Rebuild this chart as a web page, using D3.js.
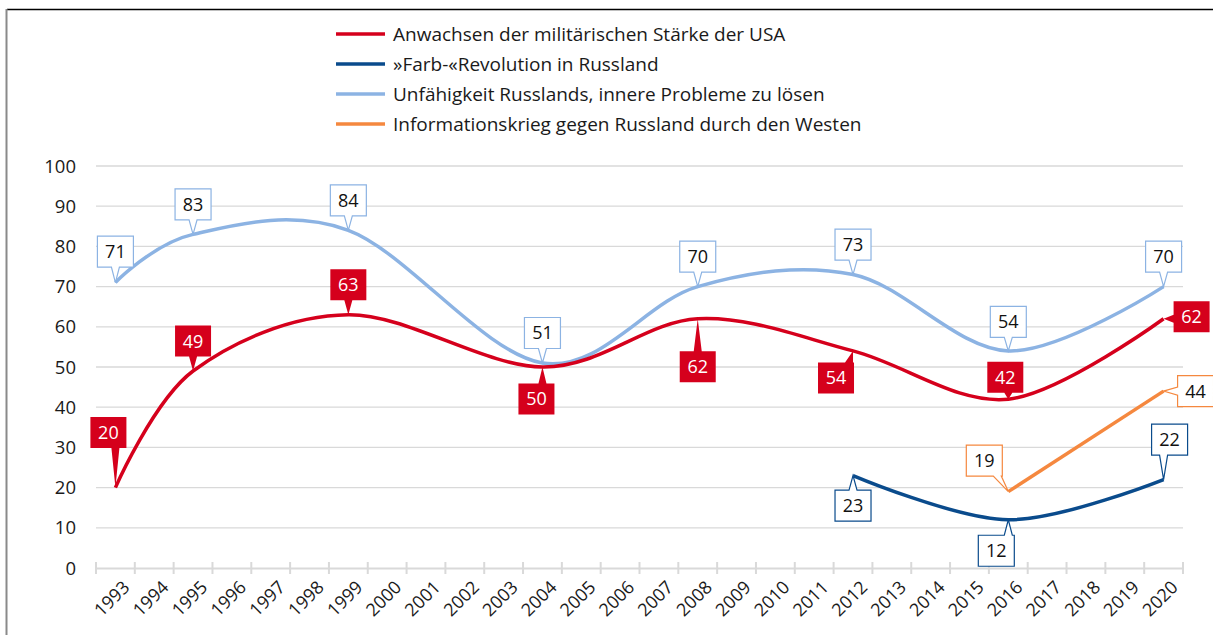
<!DOCTYPE html>
<html>
<head>
<meta charset="utf-8">
<script src="https://cdn.jsdelivr.net/npm/d3@7"></script>
<style>
  body { margin: 0; background: #fff; }
  svg { display: block; font-family: "Open Sans", sans-serif; }
</style>
</head>
<body>
<div id="chart"></div>
<script>
// categories on the x axis
const years = [1993, 1994, 1995, 1996, 1997, 1998, 1999, 2000, 2001, 2002, 2003, 2004, 2005, 2006,
               2007, 2008, 2009, 2010, 2011, 2012, 2013, 2014, 2015, 2016, 2017, 2018, 2019, 2020];
const yTicks = [0, 10, 20, 30, 40, 50, 60, 70, 80, 90, 100];

// survey years
const surveyYears = [1993, 1995, 1999, 2004, 2008, 2012, 2016, 2020];
const usaStrength = [20, 49, 63, 50, 62, 54, 42, 62];
const innerProblems = [71, 83, 84, 51, 70, 73, 54, 70];
const colorRevYears = [2012, 2016, 2020];
const colorRevolution = [23, 12, 22];
const infoWarYears = [2016, 2020];
const infoWar = [19, 44];

const seriesNames = [
  "Anwachsen der militärischen Stärke der USA",
  "»Farb-«Revolution in Russland",
  "Unfähigkeit Russlands, innere Probleme zu lösen",
  "Informationskrieg gegen Russland durch den Westen"
];

// label box offsets (box centre relative to the point)
const usaOffsets = [[-7, -55], [0, -30], [0, -30], [-6, 32], [0, 48], [-17, 27], [-3, -22], [28, -2]];
const innerOffsets = [[0, -31], [0, -30], [0, -30], [0, -30], [0, -30], [0, -30], [0, -29], [0, -30]];
const colorRevOffsets = [[0, 30], [-12, 31], [6, -40]];
const infoWarOffsets = [[-24, -31], [32, 0]];

const red = "#d5001c", darkBlue = "#0a4b8c", lightBlue = "#8cb3e3", orange = "#f5883f";

const width = 1213, height = 635;

const svg = d3.select("#chart").append("svg")
  .attr("width", width)
  .attr("height", height);

// frame
svg.append("line").attr("x1", 7).attr("x2", width).attr("y1", 9.5).attr("y2", 9.5)
  .attr("stroke", "#000").attr("stroke-width", 1.5);
svg.append("line").attr("x1", 6.5).attr("x2", 6.5).attr("y1", 9).attr("y2", height)
  .attr("stroke", "#8a8a8a").attr("stroke-width", 2);

let x = d3.scaleBand()
  .domain(years)
  .range([96, 1183])
  .padding(0);

let y = d3.scaleLinear()
  .domain([0, 100])
  .range([568, 166]);

const cx = d => x(d) + x.bandwidth() / 2;

// grid
svg.append("g")
  .selectAll("line")
  .data(yTicks.filter(d => d > 0))
  .join("line")
  .attr("x1", 96).attr("x2", 1183)
  .attr("y1", d => y(d)).attr("y2", d => y(d))
  .attr("stroke", "#d9d9d9").attr("stroke-width", 1.3);

// y axis labels
svg.append("g")
  .selectAll("text")
  .data(yTicks)
  .join("text")
  .attr("x", 76)
  .attr("y", d => y(d))
  .attr("dy", "0.36em")
  .attr("text-anchor", "end")
  .attr("font-size", 18.5)
  .attr("fill", "#1a1a1a")
  .text(d => d);

// x axis
let xAxis = g => g
  .attr("transform", `translate(0,${y(0)})`)
  .call(d3.axisBottom(x).tickSize(0).tickFormat(""))
  .call(g => g.select(".domain").attr("stroke", "#d9d9d9").attr("stroke-width", 2))
  .call(g => g.selectAll(".tick").remove());

svg.append("g").call(xAxis);

svg.append("g")
  .selectAll("line")
  .data(years.concat(["end"]))
  .join("line")
  .attr("x1", (d, i) => 96 + i * x.bandwidth())
  .attr("x2", (d, i) => 96 + i * x.bandwidth())
  .attr("y1", y(0) - 6).attr("y2", y(0) + 6)
  .attr("stroke", "#d9d9d9").attr("stroke-width", 2);

svg.append("g")
  .selectAll("text")
  .data(years)
  .join("text")
  .attr("transform", d => `translate(${cx(d) + 11},${y(0) + 16}) rotate(-45)`)
  .attr("text-anchor", "end")
  .attr("dy", "0.35em")
  .attr("font-size", 18)
  .attr("fill", "#1a1a1a")
  .text(d => d);

// lines
let line = d3.line()
  .x(d => cx(d[0]))
  .y(d => y(d[1]))
  .curve(d3.curveCardinal.tension(0));

const series = [
  {yrs: surveyYears, vals: innerProblems, color: lightBlue, offs: innerOffsets, fill: false},
  {yrs: surveyYears, vals: usaStrength, color: red, offs: usaOffsets, fill: true},
  {yrs: colorRevYears, vals: colorRevolution, color: darkBlue, offs: colorRevOffsets, fill: false},
  {yrs: infoWarYears, vals: infoWar, color: orange, offs: infoWarOffsets, fill: false}
];

series.forEach(s => {
  svg.append("path")
    .datum(d3.zip(s.yrs, s.vals))
    .attr("fill", "none")
    .attr("stroke", s.color)
    .attr("stroke-width", 3.5)
    .attr("stroke-linejoin", "round")
    .attr("d", line);
});

// callout shape: box plus wedge pointing at (px, py)
function callout(px, py, x0, y0, x1, y1) {
  const w = 4;
  const clamp = (v, a, b) => Math.max(a, Math.min(b, v));
  let p = [[x0, y0]];
  if (py < y0) {
    const b = clamp(px, x0 + w + 1, x1 - w - 1);
    p.push([b - w, y0], [px, py], [b + w, y0]);
  }
  p.push([x1, y0]);
  if (px > x1 && py >= y0 && py <= y1) {
    const b = clamp(py, y0 + w + 1, y1 - w - 1);
    p.push([x1, b - w], [px, py], [x1, b + w]);
  }
  p.push([x1, y1]);
  if (py > y1) {
    const b = clamp(px, x0 + w + 1, x1 - w - 1);
    p.push([b + w, y1], [px, py], [b - w, y1]);
  }
  p.push([x0, y1]);
  if (px < x0 && py >= y0 && py <= y1) {
    const b = clamp(py, y0 + w + 1, y1 - w - 1);
    p.push([x0, b + w], [px, py], [x0, b - w]);
  }
  return "M" + p.map(d => d.join(",")).join("L") + "Z";
}

const bw = 36, bh = 31;
series.forEach(s => {
  const g = svg.append("g");
  s.yrs.forEach((yr, i) => {
    const px = cx(yr), py = y(s.vals[i]);
    const bx = px + s.offs[i][0], by = py + s.offs[i][1];
    g.append("path")
      .attr("d", callout(px, py, bx - bw / 2, by - bh / 2, bx + bw / 2, by + bh / 2))
      .attr("fill", s.fill ? s.color : "#fff")
      .attr("stroke", s.color)
      .attr("stroke-width", s.fill ? 0 : 1.2);
    g.append("text")
      .attr("x", bx)
      .attr("y", by)
      .attr("dy", "0.36em")
      .attr("text-anchor", "middle")
      .attr("font-size", 18)
      .attr("fill", s.fill ? "#fff" : "#111")
      .text(s.vals[i]);
  });
});

// legend
const legendColors = [red, darkBlue, lightBlue, orange];
const legend = svg.append("g")
  .selectAll("g")
  .data(seriesNames)
  .join("g")
  .attr("transform", (d, i) => `translate(336,${34 + i * 30})`);

legend.append("line")
  .attr("x1", 0).attr("x2", 49)
  .attr("stroke", (d, i) => legendColors[i])
  .attr("stroke-width", 3.5);

legend.append("text")
  .attr("x", 57)
  .attr("dy", "0.36em")
  .attr("font-size", 19)
  .attr("fill", "#1a1a1a")
  .text(d => d);
</script>
</body>
</html>
